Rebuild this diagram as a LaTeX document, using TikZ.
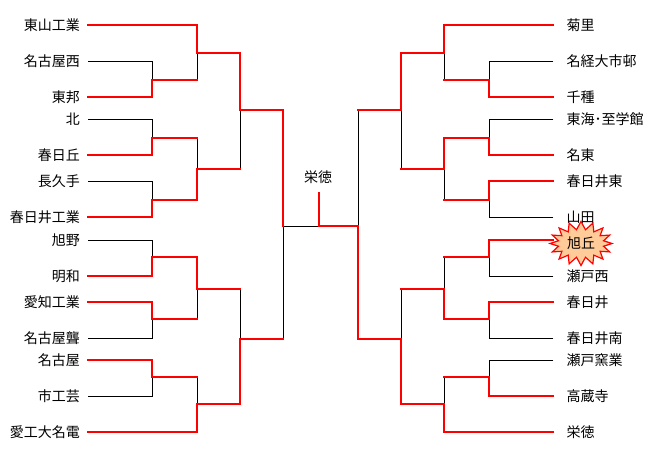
\documentclass[tikz,border=0pt]{standalone}
\usepackage{fontspec}
\setmainfont{Noto Sans CJK JP}
\usetikzlibrary{shapes.symbols}
\definecolor{peach}{HTML}{FFCC99}
\begin{document}
\begin{tikzpicture}[x=1pt,y=-1pt,
  win/.style={draw=red,line width=2pt,line cap=rect},
  lose/.style={draw=black,line width=0.9pt,line cap=rect},
  tfont/.style={inner sep=0pt,font=\fontsize{14}{14}\selectfont},
  lteam/.style={tfont,anchor=east},
  rteam/.style={tfont,anchor=west},
  burst/.style={starburst,starburst points=16,starburst point height=8pt,
    random starburst=0,minimum width=62pt,minimum height=44pt,
    fill=peach,draw=red,line width=1.2pt,inner sep=0pt,
    font=\fontsize{14}{14}\selectfont}]
\useasboundingbox (0,0) rectangle (650,449);
% team line starts
\foreach \n/\y in {1/25,2/61,3/97,4/119,5/155,6/181,7/217,8/240,9/276,10/302,11/338,12/360,13/396,14/432}{
  \coordinate (la\n) at (88,\y);
  \coordinate (ra\n) at (553,\y);
}
% left junctions
\coordinate (m1) at (152,80);  \coordinate (m2) at (152,138); \coordinate (m3) at (152,200);
\coordinate (m4) at (152,257); \coordinate (m5) at (152,319); \coordinate (m6) at (152,377);
\coordinate (n1) at (197,53);  \coordinate (n2) at (197,169);
\coordinate (n3) at (197,289); \coordinate (n4) at (197,404);
\coordinate (p1) at (240,110); \coordinate (p2) at (240,339);
\coordinate (q) at (283,226);
% centre
\coordinate (c) at (319,226); \coordinate (ctop) at (319,193);
% right junctions
\coordinate (rm1) at (489,80);  \coordinate (rm2) at (489,138); \coordinate (rm3) at (489,200);
\coordinate (rm4) at (489,257); \coordinate (rm5) at (489,319); \coordinate (rm6) at (489,377);
\coordinate (rn1) at (444,53);  \coordinate (rn2) at (444,169);
\coordinate (rn3) at (444,289); \coordinate (rn4) at (444,404);
\coordinate (rp1) at (401,110); \coordinate (rp2) at (401,339);
\coordinate (rq) at (358,226);

% ---- losing (black) lines ----
\draw[lose] (la2) -| (m1);
\draw[lose] (m1 -| n1) -- (n1);
\draw[lose] (la4) -| (m2);
\draw[lose] (la6) -| (m3);
\draw[lose] (m2 -| n2) -- (n2);
\draw[lose] (n2 -| p1) -- (p1);
\draw[lose] (la8) -| (m4);
\draw[lose] (la11) -| (m5);
\draw[lose] (m5 -| n3) -- (n3);
\draw[lose] (la13) -| (m6);
\draw[lose] (m6 -| n4) -- (n4);
\draw[lose] (n3 -| p2) -- (p2);
\draw[lose] (p2 -| q) -- (q);
\draw[lose] (q) -- (c);
\draw[lose] (ra2) -| (rm1);
\draw[lose] (rm1 -| rn1) -- (rn1);
\draw[lose] (ra4) -| (rm2);
\draw[lose] (ra7) -| (rm3);
\draw[lose] (rm3 -| rn2) -- (rn2);
\draw[lose] (rn2 -| rp1) -- (rp1);
\draw[lose] (ra9) -| (rm4);
\draw[lose] (ra11) -| (rm5);
\draw[lose] (rm4 -| rn3) -- (rn3);
\draw[lose] (ra12) -| (rm6);
\draw[lose] (rm6 -| rn4) -- (rn4);
\draw[lose] (rn3 -| rp2) -- (rp2);
\draw[lose] (rp1 -| rq) -- (rq);

% ---- winning (red) lines ----
\draw[win] (la1) -| (n1) -| (p1) -| (q);
\draw[win] (la3) -| (m1) -- (m1 -| n1);
\draw[win] (la5) -| (m2) -- (m2 -| n2);
\draw[win] (la7) -| (m3) -| (n2) -- (n2 -| p1);
\draw[win] (la9) -| (m4) -| (n3) -- (n3 -| p2);
\draw[win] (la10) -| (m5) -- (m5 -| n3);
\draw[win] (la12) -| (m6) -- (m6 -| n4);
\draw[win] (la14) -| (n4) -| (p2) -- (p2 -| q);
\draw[win] (ra1) -| (rn1) -| (rp1) -- (rp1 -| rq);
\draw[win] (ra3) -| (rm1) -- (rm1 -| rn1);
\draw[win] (ra5) -| (rm2) -| (rn2) -- (rn2 -| rp1);
\draw[win] (ra6) -| (rm3) -- (rm3 -| rn2);
\draw[win] (ra8) -| (rm4) -- (rm4 -| rn3);
\draw[win] (ra10) -| (rm5) -| (rn3) -- (rn3 -| rp2);
\draw[win] (ra13) -| (rm6) -- (rm6 -| rn4);
\draw[win] (ra14) -| (rn4) -| (rp2) -| (rq) -- (c) -- (ctop);

% ---- labels ----
\foreach \n/\y/\t in {1/25/東山工業,2/61/名古屋西,3/97/東邦,4/119/北,5/155/春日丘,6/181/長久手,7/217/春日井工業,8/240/旭野,9/276/明和,10/302/愛知工業,11/338/名古屋聾,12/360/名古屋,13/396/市工芸,14/432/愛工大名電}{
  \node[lteam] (l\n) at (80,\y) {\t};
}
\foreach \n/\y/\t in {1/25/菊里,2/61/名経大市邨,3/97/千種,4/119/東海･至学館,5/155/名東,6/181/春日井東,7/217/山田,9/276/瀬戸西,10/302/春日井,11/338/春日井南,12/360/瀬戸窯業,13/396/高蔵寺,14/432/栄徳}{
  \node[rteam] (r\n) at (566.5,\y) {\t};
}
\node[burst] (r8) at (581,243.5) {旭丘};
\node[tfont] (champ) at (318,177) {栄徳};
\end{tikzpicture}
\end{document}
